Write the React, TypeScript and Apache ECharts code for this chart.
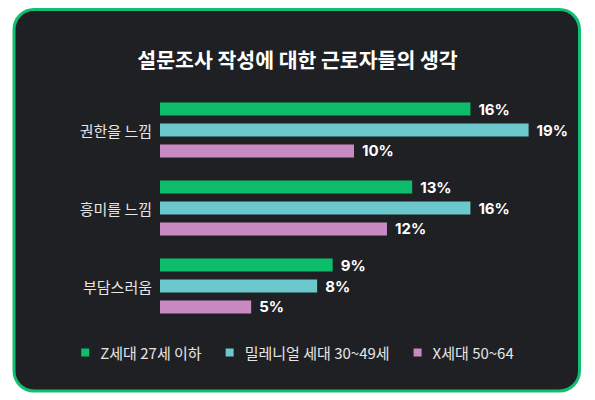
import { useEffect, useRef } from 'react';
import * as echarts from 'echarts';

const categories = ['권한을 느낌', '흥미를 느낌', '부담스러움'];
const seriesNames = ['Z세대 27세 이하', '밀레니얼 세대 30~49세', 'X세대 50~64'];
const genZ = [16, 13, 8.9];
const millennials = [19, 16, 8.1];
const genX = [10, 11.7, 4.7];
const colors = ['#0dbd6c', '#6cc8cc', '#c98ac4'];

export default function App() {
  const chartRef = useRef<HTMLDivElement>(null);

  useEffect(() => {
    if (!chartRef.current) return;
    const chart = echarts.init(chartRef.current, undefined, { renderer: 'svg' });

    const values = [genZ, millennials, genX];

    chart.setOption({
      animation: false,
      backgroundColor: '#ffffff',
      textStyle: { fontFamily: 'Noto Sans CJK KR' },
      graphic: [
        {
          type: 'rect',
          z: -10,
          shape: { x: 14, y: 9.5, width: 565.5, height: 381.5, r: 20 },
          style: { fill: '#1f2023', stroke: '#10c070', lineWidth: 3 },
        },
      ],
      title: {
        text: '설문조사 작성에 대한 근로자들의 생각',
        left: 'center',
        top: 44,
        textStyle: {
          color: '#ffffff',
          fontSize: 20.5,
          fontWeight: 'bold',
          fontFamily: 'Noto Sans CJK KR',
        },
      },
      legend: {
        data: seriesNames,
        left: 'center',
        top: 340,
        icon: 'rect',
        itemWidth: 8,
        itemHeight: 8,
        itemGap: 24,
        textStyle: {
          color: '#e6e6e6',
          fontSize: 15,
          fontFamily: 'Noto Sans CJK KR',
          padding: [0, 0, 0, 6],
        },
      },
      grid: { left: 160, top: 91, width: 388, height: 234 },
      xAxis: {
        type: 'value',
        min: 0,
        max: 20,
        show: false,
      },
      yAxis: {
        type: 'category',
        data: categories,
        inverse: true,
        axisLine: { show: false },
        axisTick: { show: false },
        axisLabel: {
          color: '#e6e6e6',
          fontSize: 15,
          margin: 8,
          fontFamily: 'Noto Sans CJK KR',
        },
      },
      series: seriesNames.map((name, i) => ({
        name,
        type: 'bar',
        data: values[i],
        barWidth: 13,
        barGap: '61.5%',
        itemStyle: { color: colors[i] },
        label: {
          show: true,
          position: 'right',
          distance: 8,
          formatter: (p: any) => `${Math.round(p.value)}%`,
          color: '#ffffff',
          fontSize: 15,
          fontWeight: 700,
          fontFamily: 'Inter',
        },
      })),
    });

    return () => {
      chart.dispose();
    };
  }, []);

  return (
    <div style={{ position: 'fixed', left: 0, top: 0, width: 595, height: 400 }}>
      <div ref={chartRef} style={{ width: 595, height: 400 }} />
    </div>
  );
}
